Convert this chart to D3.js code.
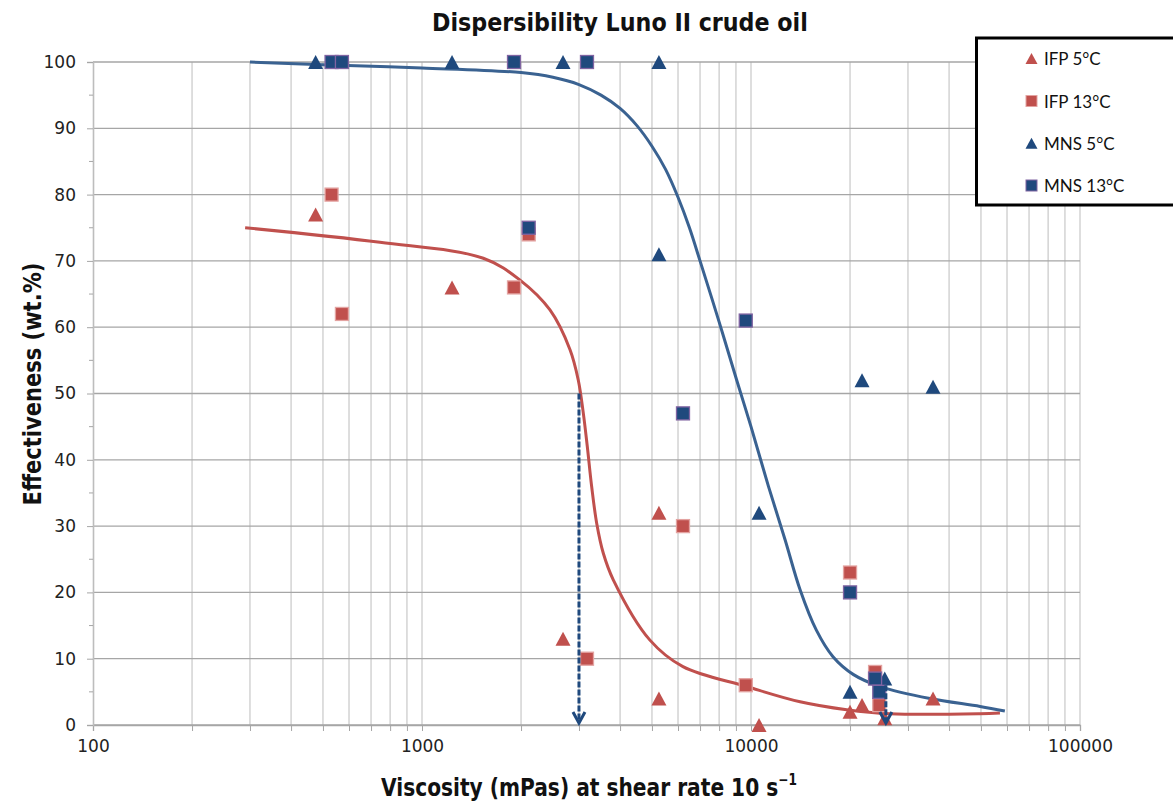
<!DOCTYPE html>
<html>
<head>
<meta charset="utf-8">
<script src="https://cdn.jsdelivr.net/npm/d3@7/dist/d3.min.js"></script>
<style>
html,body{margin:0;padding:0;background:#fff;}
svg{display:block;}
</style>
</head>
<body>
<svg id="chart" width="1173" height="808"></svg>
<script>
// ---------------- data ----------------
const xTickValues = [100, 1000, 10000, 100000];
const xTickLabels = ["100", "1000", "10000", "100000"];
const yTickValues = [0, 10, 20, 30, 40, 50, 60, 70, 80, 90, 100];

// 5 °C tests (viscosity, effectiveness)
const viscosity5 = [475, 1234, 2683, 5250, 5250, 10580, 20000, 21750, 25500, 35750];
const ifp5 = [77, 66, 13, 32, 4, 0, 2, 3, 1, 4];
const mns5 = [100, 100, 100, 100, 71, 32, 5, 52, 7, 51];

// 13 °C tests
const viscosity13 = [531, 571, 1904, 2110, 3173, 6213, 9640, 20000, 23830, 24540];
const ifp13 = [80, 62, 66, 74, 10, 30, 6, 23, 8, 3];
const mns13 = [100, 100, 100, 75, 100, 47, 61, 20, 7, 5];

// fitted trend curves
const ifpCurve = [[290,75],[745,72.8],[1536,70.4],[1986,67.1],[2449,62.6],[2818,56.6],[2986,52],[3093,47],[3180,42],[3280,35.9],[3397,30.4],[3557,25.9],[3814,21.9],[4930,12.8],[6210,8.8],[9700,5.8],[14100,3.5],[19540,2.3],[26450,1.7],[49660,1.7],[57100,1.8]];
const mnsCurve = [[300,100],[500,99.6],[1000,99.1],[2000,98.4],[2500,97.7],[3000,96.6],[3500,95],[4000,93],[4500,90.4],[5000,87.3],[5500,83.8],[6000,79.6],[6500,75],[7000,70],[8000,60.8],[9050,52],[10000,45],[11300,36],[12700,27.9],[14100,20.4],[15800,14.3],[17750,10.3],[20500,7.6],[24700,5.8],[35000,4],[49700,2.8],[59100,2.1]];

// dashed arrow annotations [viscosity, from value, to value]
const arrows = [[3000, 50, 0], [25700, 6, 0]];

const seriesNames = ["IFP 5°C", "IFP 13°C", "MNS 5°C", "MNS 13°C"];

// ---------------- drawing ----------------
const svg = d3.select("#chart");
const mLeft = 93, mRight = 1080, mTop = 62, mBottom = 725;
const x = d3.scaleLog().domain([100, 100000]).range([mLeft, mRight]);
const y = d3.scaleLinear().domain([0, 100]).range([mBottom, mTop]);

const RED = "#C0504D", NAVY = "#1F497D", PURPLE = "#8064A2", BLUELINE = "#3A6291";

// vertical grid (minor + major)
const xGrid = [];
for (let d = 100; d < 100000; d *= 10) for (let k = 1; k <= 9; k++) xGrid.push(d * k);
xGrid.push(100000);
svg.append("g").selectAll("line").data(xGrid.filter(v => v > 100)).join("line")
  .attr("x1", d => x(d)).attr("x2", d => x(d))
  .attr("y1", mTop).attr("y2", mBottom)
  .attr("stroke", "#C8C8C8").attr("stroke-width", 1.2);

// horizontal grid
svg.append("g").selectAll("line").data(yTickValues).join("line")
  .attr("x1", mLeft).attr("x2", mRight)
  .attr("y1", d => y(d)).attr("y2", d => y(d))
  .attr("stroke", "#A6A6A6").attr("stroke-width", 1.3);

// x axis ticks (major + minor)
const xAxis = d3.axisBottom(x).tickValues(xGrid).tickSize(6).tickFormat(d => {
  const i = xTickValues.indexOf(d); return i >= 0 ? xTickLabels[i] : "";
});
const gx = svg.append("g").attr("transform", `translate(0,${mBottom})`).call(xAxis);
gx.select(".domain").attr("stroke", "#A6A6A6").attr("stroke-width", 1.3);
gx.selectAll(".tick line").attr("stroke", "#A6A6A6");
gx.selectAll(".tick text").attr("font-family", "DejaVu Sans, Verdana, sans-serif")
  .attr("font-size", 17).attr("fill", "#222").attr("dy", "1.05em");

// y axis
const yAxis = d3.axisLeft(y).tickValues(yTickValues).tickSize(6).tickFormat(d3.format("d"));
const gy = svg.append("g").attr("transform", `translate(${mLeft},0)`).call(yAxis);
gy.select(".domain").attr("stroke", "#BDBDBD").attr("stroke-width", 1.6);
gy.selectAll(".tick line").attr("stroke", "#A6A6A6");
gy.selectAll(".tick text").attr("font-family", "DejaVu Sans, Verdana, sans-serif")
  .attr("font-size", 17).attr("fill", "#222").attr("x", -17);
// y minor ticks
svg.append("g").selectAll("line").data(d3.range(5, 100, 10)).join("line")
  .attr("x1", mLeft - 4).attr("x2", mLeft)
  .attr("y1", d => y(d)).attr("y2", d => y(d))
  .attr("stroke", "#A6A6A6");

// curves
const line = d3.line().x(d => x(d[0])).y(d => y(d[1])).curve(d3.curveCatmullRom.alpha(0.5));
svg.append("path").datum(ifpCurve).attr("d", line)
  .attr("fill", "none").attr("stroke", RED).attr("stroke-width", 3);
svg.append("path").datum(mnsCurve).attr("d", line)
  .attr("fill", "none").attr("stroke", BLUELINE).attr("stroke-width", 3);

// markers
const tri = (w, h) => `M0,${-h/2}L${w/2},${h/2}L${-w/2},${h/2}Z`;
function triangles(xs, ys, fill) {
  svg.append("g").selectAll("path").data(xs.map((v, i) => [v, ys[i]])).join("path")
    .attr("d", tri(15, 14))
    .attr("transform", d => `translate(${x(d[0])},${y(d[1])})`)
    .attr("fill", fill);
}
function squares(xs, ys, fill, stroke) {
  const s = 13;
  svg.append("g").selectAll("rect").data(xs.map((v, i) => [v, ys[i]])).join("rect")
    .attr("x", d => x(d[0]) - s/2).attr("y", d => y(d[1]) - s/2)
    .attr("width", s).attr("height", s)
    .attr("fill", fill).attr("stroke", stroke).attr("stroke-width", 1.3);
}
triangles(viscosity5, ifp5, RED);
squares(viscosity13, ifp13, RED, "#E3A3A1");
triangles(viscosity5, mns5, NAVY);
squares(viscosity13, mns13, NAVY, PURPLE);

// dashed arrows
arrows.forEach(a => {
  const ax = x(a[0]), y1 = y(a[1]), y2 = y(a[2]) - 2;
  svg.append("line").attr("x1", ax).attr("x2", ax).attr("y1", y1).attr("y2", y2 - 2)
    .attr("stroke", NAVY).attr("stroke-width", 3).attr("stroke-dasharray", "6,2");
  svg.append("path").attr("d", `M${ax-6},${y2-11}L${ax},${y2}L${ax+6},${y2-11}`)
    .attr("fill", "none").attr("stroke", NAVY).attr("stroke-width", 3);
});

// condensed text helper: scales horizontally to fit a target width
function condensed(g, txt, size, targetW, anchorX, baseY, rotate) {
  const t = g.append("text").attr("font-family", "DejaVu Sans Condensed, DejaVu Sans, sans-serif")
    .attr("font-weight", "bold").attr("font-size", size).attr("fill", "#111");
  txt(t);
  const w = t.node().getComputedTextLength();
  const s = targetW / w;
  t.attr("x", -w / 2);
  const rot = rotate ? " rotate(-90)" : "";
  t.attr("transform", `translate(${anchorX},${baseY})${rot} scale(${s},1)`);
  return t;
}

// title
condensed(svg, t => t.text("Dispersibility Luno II crude oil"), 24, 376, 620, 31, false);

// x axis label (with superscript)
condensed(svg, t => {
  t.append("tspan").text("Viscosity (mPas) at shear rate 10 s");
  t.append("tspan").attr("dy", -11).attr("font-size", 15).text("−1");
}, 25, 416, 589, 796, false);

// y axis label
condensed(svg, t => t.text("Effectiveness (wt.%)"), 24, 243, 41, 384, true);

// legend
const lg = svg.append("g");
lg.append("rect").attr("x", 976.5).attr("y", 38).attr("width", 210).attr("height", 167)
  .attr("fill", "#fff").attr("stroke", "#000").attr("stroke-width", 3);
const rowY = [58.5, 101, 143.3, 185.5];
seriesNames.forEach((name, i) => {
  const cy = rowY[i], cx = 1031.5;
  if (i % 2 === 0) {
    lg.append("path").attr("d", tri(12, 11)).attr("transform", `translate(${cx},${cy})`)
      .attr("fill", i === 0 ? RED : NAVY);
  } else {
    lg.append("rect").attr("x", cx - 5.5).attr("y", cy - 5.5).attr("width", 11).attr("height", 11)
      .attr("fill", i === 1 ? RED : NAVY).attr("stroke", i === 1 ? "#E3A3A1" : PURPLE).attr("stroke-width", 1);
  }
  lg.append("text").attr("x", 1044).attr("y", cy + 6.5)
    .attr("font-family", "Lato, Carlito, sans-serif").attr("font-size", 17).attr("fill", "#111")
    .text(name);
});
</script>
</body>
</html>
